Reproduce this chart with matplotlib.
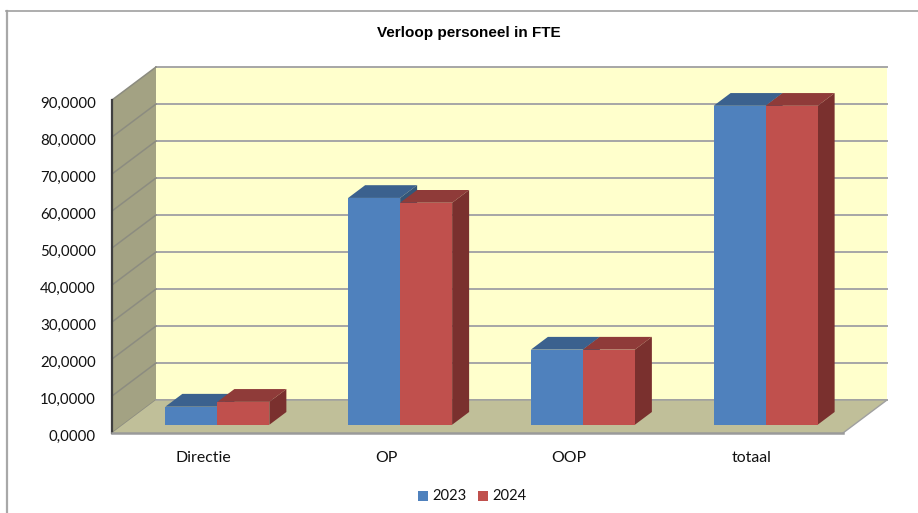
import matplotlib
matplotlib.use("Agg")
import matplotlib.pyplot as plt
from matplotlib.patches import Polygon, Rectangle

categories = ["Directie", "OP", "OOP", "totaal"]
series_names = ["2023", "2024"]
values_2023 = [4.9, 61.3, 20.3, 86.2]
values_2024 = [6.2, 60.0, 20.3, 86.2]
y_ticks = [0, 10, 20, 30, 40, 50, 60, 70, 80, 90]

W, H = 918, 513
LEFT, RIGHT, BOTTOM, TOP = 112, 843, 433, 100
DX, DY = 44, 33  # wall depth in pixels

fig = plt.figure(figsize=(W / 100, H / 100), dpi=100)
ax = fig.add_axes([LEFT / W, 1 - BOTTOM / H, (RIGHT - LEFT) / W, (BOTTOM - TOP) / H])
ax.set_xlim(-0.5, 3.5)
ax.set_ylim(0, 90)
ax.axis("off")

px_x = 4 / (RIGHT - LEFT)
px_y = 90 / (BOTTOM - TOP)


def oblique(x, v, depth):
    # depth 0 = front plane, depth 1 = back wall
    return (x + depth * DX * px_x, v + depth * DY * px_y)


def face(points, color, zorder, edge="none", lw=0):
    ax.add_patch(Polygon(points, closed=True, facecolor=color, edgecolor=edge,
                         linewidth=lw, clip_on=False, zorder=zorder))


# walls and floor
x0, x1 = -0.5, 3.5
face([oblique(x0, 0, 1), oblique(x1, 0, 1), oblique(x1, 90, 1), oblique(x0, 90, 1)], "#ffffcc", 1)
face([oblique(x0, 0, 0), oblique(x0, 0, 1), oblique(x0, 90, 1), oblique(x0, 90, 0)], "#a3a283", 1)
face([oblique(x0, 0, 0), oblique(x1, 0, 0), oblique(x1, 0, 1), oblique(x0, 0, 1)], "#c0bf99", 1.5)

# gridlines
for t in y_ticks:
    ax.plot([oblique(x0, t, 1)[0], oblique(x1, t, 1)[0]],
            [oblique(x0, t, 1)[1], oblique(x1, t, 1)[1]],
            color="#a6a6a6", lw=1.4, clip_on=False, zorder=1.2)
    ax.plot([oblique(x0, t, 0)[0], oblique(x0, t, 1)[0]],
            [oblique(x0, t, 0)[1], oblique(x0, t, 1)[1]],
            color="#8c8c80", lw=1.1, clip_on=False, zorder=1.2)
ax.plot([x0, x0], [0, 90], color="#404040", lw=1.6, clip_on=False, zorder=2)
ax.plot([x0, x1], [0, 0], color="#9a9a9a", lw=1.8, clip_on=False, zorder=2)
pts = [oblique(x0, 0, 1), oblique(x1, 0, 1), oblique(x1, 0, 0)]
ax.plot([p[0] for p in pts], [p[1] for p in pts], color="#a0a0a0", lw=1, clip_on=False, zorder=1.6)

# bars
bar_w = 52 * px_x
bar_depth = 17 / DX
bar_front = 0.25
bar_shift = 14 * px_x


def draw_bar(x_left, v, front, top, side, z):
    xr = x_left + bar_w
    b0 = oblique(x_left, 0, bar_front)
    base = b0[1]
    d = bar_depth
    face([oblique(x_left, v, bar_front), oblique(xr, v, bar_front),
          oblique(xr, v, bar_front + d), oblique(x_left, v, bar_front + d)], top, z)
    face([oblique(xr, 0, bar_front), oblique(xr, 0, bar_front + d),
          oblique(xr, v, bar_front + d), oblique(xr, v, bar_front)], side, z)
    ax.add_patch(Rectangle((b0[0], base), bar_w, v, facecolor=front, edgecolor="none",
                           clip_on=False, zorder=z + 0.1))


for i in range(len(categories)):
    xc = i + bar_shift - bar_front * DX * px_x
    draw_bar(xc - bar_w, values_2023[i], "#4f81bd", "#3b618e", "#345678", 3 + i)
    draw_bar(xc, values_2024[i], "#c0504d", "#8f3b39", "#7a302e", 3.5 + i)

# labels
label_font = ["Lato", "DejaVu Sans"]
for t in y_ticks:
    ax.annotate(f"{t},0000", (x0, t), xytext=(-16, -4), textcoords="offset pixels",
                ha="right", va="center", fontsize=10.8, family=label_font, color="#111111",
                annotation_clip=False)
for i, c in enumerate(categories):
    ax.annotate(c, (i, 0), xytext=(0, -25), textcoords="offset pixels", ha="center",
                va="center", fontsize=11.4, family=label_font, color="#111111",
                annotation_clip=False)

fig.text(468.5 / W, 1 - 33 / H, "Verloop personeel in FTE", ha="center", va="center",
         fontsize=11, fontweight="bold", family="Liberation Sans", color="black")

# legend
for sx, name, color in zip([418, 478], series_names, ["#4f81bd", "#c0504d"]):
    fig.add_artist(Rectangle((sx / W, 1 - 501 / H), 10 / W, 10 / H, facecolor=color,
                             edgecolor="none", transform=fig.transFigure))
    fig.text((sx + 14) / W, 1 - 496 / H, name, ha="left", va="center", fontsize=10.6,
             family=label_font, color="#111111")

# outer border, only top and left show in the crop
fig.add_artist(plt.Line2D([6.5 / W, 6.5 / W], [0, 1 - 11 / H],
                          color="#a8a8a8", lw=1.6, transform=fig.transFigure))
fig.add_artist(plt.Line2D([6 / W, 1], [1 - 11 / H, 1 - 11 / H],
                          color="#a0a0a0", lw=1.2, transform=fig.transFigure))

fig.savefig("out.png", dpi=100)
